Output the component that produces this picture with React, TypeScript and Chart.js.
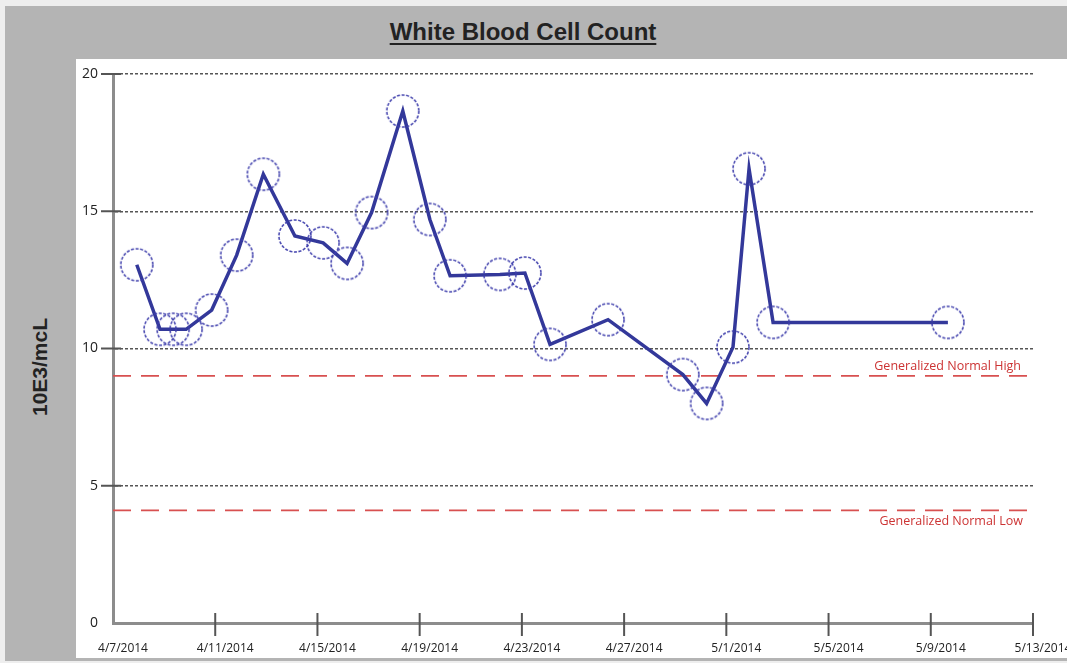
import React, { useEffect, useRef } from "react";
import { Chart, registerables } from "chart.js";

Chart.register(...registerables);

// ---- data ----
const START_DATE = "2014-04-07T00:00:00Z";
const sampleTimes = [
  "2014-04-07T22:20:00Z",
  "2014-04-08T20:10:00Z",
  "2014-04-09T08:25:00Z",
  "2014-04-09T20:40:00Z",
  "2014-04-10T20:40:00Z",
  "2014-04-11T20:10:00Z",
  "2014-04-12T21:10:00Z",
  "2014-04-14T02:50:00Z",
  "2014-04-15T05:20:00Z",
  "2014-04-16T03:50:00Z",
  "2014-04-17T02:50:00Z",
  "2014-04-18T08:10:00Z",
  "2014-04-19T09:35:00Z",
  "2014-04-20T04:35:00Z",
  "2014-04-22T03:20:00Z",
  "2014-04-23T02:50:00Z",
  "2014-04-24T02:25:00Z",
  "2014-04-26T08:55:00Z",
  "2014-04-29T07:10:00Z",
  "2014-04-30T05:30:00Z",
  "2014-05-01T06:15:00Z",
  "2014-05-01T21:20:00Z",
  "2014-05-02T19:55:00Z",
  "2014-05-09T16:05:00Z",
];
const wbcValues = [
  13.05, 10.7, 10.7, 10.7, 11.4, 13.4, 16.35, 14.1, 13.85, 13.1, 14.95, 18.65,
  14.7, 12.65, 12.7, 12.75, 10.15, 11.05, 9.05, 8.0, 10.05, 16.55, 10.95, 10.95,
];
const normalHigh = 9.0;
const normalLow = 4.1;
const refLabels = ["Generalized Normal High", "Generalized Normal Low"];
const xMinDay = 0; // 4/7/2014
const xMaxDay = 36; // 5/13/2014
const xStepDays = 4;
const yMin = 0;
const yMax = 20;
const yStep = 5;
const chartTitle = "White Blood Cell Count";
const yAxisTitle = "10E3/mcL";

const DAY_MS = 86400000;
const startMs = Date.parse(START_DATE);
const toDay = (t: string) => (Date.parse(t) - startMs) / DAY_MS;
const fmtDay = (d: number) => {
  const dt = new Date(startMs + d * DAY_MS);
  return `${dt.getUTCMonth() + 1}/${dt.getUTCDate()}/${dt.getUTCFullYear()}`;
};

function makeCircle(): HTMLCanvasElement {
  const c = document.createElement("canvas");
  c.width = 36;
  c.height = 36;
  const g = c.getContext("2d")!;
  g.strokeStyle = "rgba(62,62,172,0.95)";
  g.lineWidth = 1.6;
  g.setLineDash([3, 1.6]);
  g.beginPath();
  g.arc(18, 18, 16, 0, Math.PI * 2);
  g.stroke();
  return c;
}

const decorPlugin = {
  id: "decor",
  afterDraw(chart: any) {
    const { ctx, chartArea } = chart;
    const x = chart.scales.x;
    const y = chart.scales.y;
    ctx.save();
    ctx.strokeStyle = "#555";
    ctx.lineWidth = 2;
    x.ticks.forEach((t: any) => {
      if (t.value === xMinDay) return;
      const px = x.getPixelForValue(t.value);
      ctx.beginPath();
      ctx.moveTo(px, chartArea.bottom - 10);
      ctx.lineTo(px, chartArea.bottom + 13);
      ctx.stroke();
    });
    y.ticks.forEach((t: any) => {
      if (t.value === yMin) return;
      const py = y.getPixelForValue(t.value);
      ctx.beginPath();
      ctx.moveTo(chartArea.left - 12, py);
      ctx.lineTo(chartArea.left + 8, py);
      ctx.stroke();
    });
    ctx.fillStyle = "#cc3333";
    ctx.font = '12.5px "Open Sans"';
    ctx.textAlign = "right";
    ctx.textBaseline = "middle";
    ctx.fillText(refLabels[0], chartArea.right - 12, y.getPixelForValue(normalHigh) - 10);
    ctx.fillText(refLabels[1], chartArea.right - 10, y.getPixelForValue(normalLow) + 11);
    ctx.restore();
  },
};

export default function App() {
  const ref = useRef<HTMLCanvasElement | null>(null);

  useEffect(() => {
    document.body.style.margin = "0";
    if (!ref.current) return;
    const circle = makeCircle();
    const mainPts = sampleTimes.map((t, i) => ({ x: toDay(t), y: wbcValues[i] }));
    const chart = new Chart(ref.current, {
      type: "line",
      data: {
        datasets: [
          {
            label: "WBC",
            data: mainPts,
            borderColor: "#33389a",
            borderWidth: 3.5,
            tension: 0,
            pointStyle: circle as any,
            pointRadius: 16,
            pointHoverRadius: 16,
            fill: false,
          },
          {
            label: refLabels[0],
            data: [
              { x: xMinDay, y: normalHigh },
              { x: xMaxDay, y: normalHigh },
            ],
            borderColor: "#d85050",
            borderWidth: 1.8,
            borderDash: [18, 10],
            pointRadius: 0,
            fill: false,
          },
          {
            label: refLabels[1],
            data: [
              { x: xMinDay, y: normalLow },
              { x: xMaxDay, y: normalLow },
            ],
            borderColor: "#d85050",
            borderWidth: 1.8,
            borderDash: [18, 10],
            pointRadius: 0,
            fill: false,
          },
        ],
      },
      options: {
        responsive: false,
        animation: false,
        events: [],
        layout: { padding: { left: 0, top: 74, right: 34, bottom: 0 } },
        plugins: {
          legend: { display: false },
          tooltip: { enabled: false },
          title: { display: false },
        },
        scales: {
          x: {
            type: "linear",
            min: xMinDay,
            max: xMaxDay,
            afterFit: (s: any) => {
              s.height = 40;
              s.paddingRight = 0;
              s.paddingLeft = 0;
            },
            ticks: {
              stepSize: xStepDays,
              autoSkip: false,
              maxRotation: 0,
              minRotation: 0,
              labelOffset: 10,
              padding: 18,
              color: "#222",
              font: { family: "Open Sans", size: 12 },
              callback: (v: any) => fmtDay(Number(v)),
            },
            grid: { display: false, drawTicks: false },
            border: { display: true, color: "#8c8c8c", width: 3 },
          },
          y: {
            type: "linear",
            min: yMin,
            max: yMax,
            afterFit: (s: any) => {
              s.width = 113;
              s.paddingTop = 0;
              s.paddingBottom = 0;
            },
            ticks: {
              stepSize: yStep,
              padding: 15,
              color: "#222",
              font: { family: "Open Sans", size: 14 },
            },
            grid: {
              display: true,
              drawTicks: false,
              color: (c: any) => (c.tick && c.tick.value === yMin ? "rgba(0,0,0,0)" : "#555"),
              lineWidth: 1.5,
            },
            border: { display: true, color: "#8c8c8c", width: 3, dash: [3, 2] },
          },
        },
      },
      plugins: [decorPlugin],
    });
    return () => chart.destroy();
  }, []);

  return (
    <div
      style={{
        position: "relative",
        width: 1067,
        height: 663,
        background: "#eeeeee",
        overflow: "hidden",
      }}
    >
      <div
        style={{
          position: "absolute",
          left: 5,
          top: 6,
          width: 1062,
          height: 655,
          background: "#b4b4b4",
        }}
      />
      <div
        style={{
          position: "absolute",
          left: 76,
          top: 59,
          width: 991,
          height: 599,
          background: "#ffffff",
        }}
      />
      <div
        style={{
          position: "absolute",
          left: 0,
          top: 19,
          width: 1046,
          textAlign: "center",
          fontFamily: '"Liberation Sans", Arial, sans-serif',
          fontWeight: "bold",
          fontSize: 24,
          lineHeight: "26px",
          color: "#222",
        }}
      >
        <span
          style={{
            textDecoration: "underline",
            textDecorationThickness: "2px",
            textUnderlineOffset: "3px",
          }}
        >
          {chartTitle}
        </span>
      </div>
      <div
        style={{
          position: "absolute",
          left: 40,
          top: 367,
          transform: "translate(-50%, -50%) rotate(-90deg)",
          fontFamily: '"Liberation Sans", Arial, sans-serif',
          fontWeight: "bold",
          fontSize: 21,
          whiteSpace: "nowrap",
          color: "#222",
        }}
      >
        {yAxisTitle}
      </div>
      <canvas
        ref={ref}
        width={1067}
        height={663}
        style={{ position: "absolute", left: 0, top: 0, width: 1067, height: 663 }}
      />
    </div>
  );
}
